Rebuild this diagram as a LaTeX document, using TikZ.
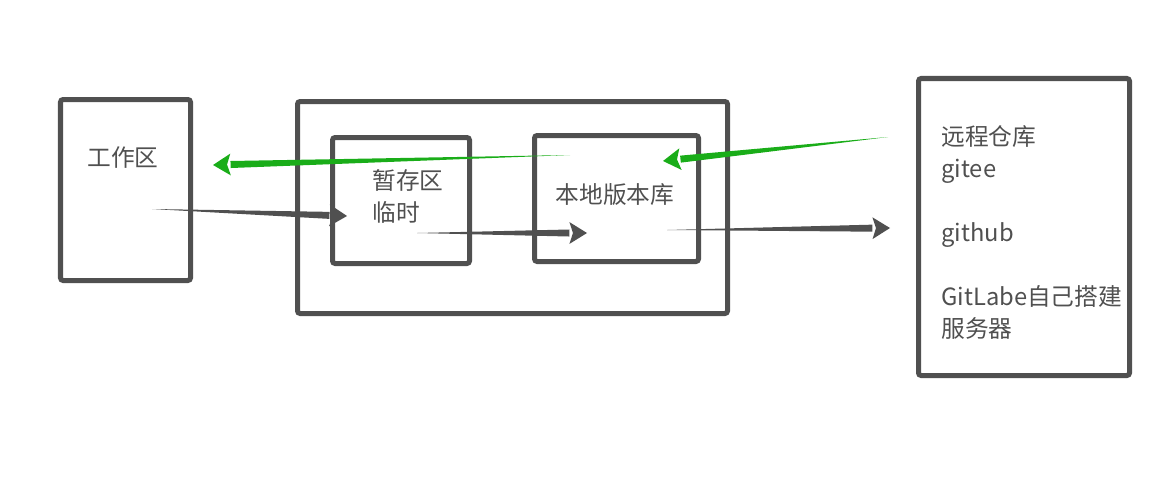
\documentclass[tikz,border=0pt]{standalone}
\usepackage{fontspec}
\setmainfont{Noto Sans CJK SC}
\usetikzlibrary{calc}
\definecolor{boxgray}{RGB}{80,80,80}
\definecolor{txtgray}{RGB}{80,80,80}
\definecolor{pullgreen}{RGB}{26,173,25}
\tikzset{
  box/.style={draw=boxgray,line width=2.85pt,rounded corners=1.5pt},
  txt/.style={text=txtgray,font=\fontsize{13.5}{18.2}\selectfont,inner sep=0pt},
}
% tapered arrow: colour, from, to
\newcommand{\taperarrow}[3]{%
  \coordinate (h) at ($(#3)!10pt!(#2)$);
  \fill[#1] (#2) -- ($(h)!2pt!90:(#2)$) -- ($(h)!2pt!-90:(#2)$) -- cycle;
  \fill[#1] (#3) -- ($(h)!6.2pt!90:(#2)$) -- ($(h)!-2pt!(#2)$)
    -- ($(h)!6.2pt!-90:(#2)$) -- cycle;
}
\begin{document}
\begin{tikzpicture}[x=0.02cm,y=-0.02cm]
  \useasboundingbox (0,0) rectangle (1168,487);

  \draw[box] (60.5,99.5) rectangle (190.5,280.5);
  \draw[box] (297.5,101.5) rectangle (727.5,313.5);
  \draw[box] (332.5,137.5) rectangle (469.5,263.5);
  \draw[box] (534.5,135.5) rectangle (698.5,261.5);
  \draw[box] (918.5,78.5) rectangle (1129.5,375.5);

  \node[txt] (work) at (123,158) {工作区};
  \node[txt,align=left,anchor=north west] (stage) at (372,169) {暂存区\\临时};
  \node[txt] (localrepo) at (615,195) {本地版本库};
  \node[txt,align=left,anchor=north west] (remote) at (941,125)
    {远程仓库\\gitee\\ \\github\\ \\GitLabe自己搭建\\服务器};

  \coordinate (add-from) at (152,209);
  \coordinate (add-to) at (347,216);
  \coordinate (commit-from) at (417,233);
  \coordinate (commit-to) at (587,233);
  \coordinate (push-from) at (667,230);
  \coordinate (push-to) at (890,228);
  \coordinate (pull-from) at (888,137);
  \coordinate (pull-to) at (663,161);
  \coordinate (checkout-from) at (570,155);
  \coordinate (checkout-to) at (213,165);

  \taperarrow{boxgray}{add-from}{add-to}
  \taperarrow{boxgray}{commit-from}{commit-to}
  \taperarrow{boxgray}{push-from}{push-to}
  \taperarrow{pullgreen}{pull-from}{pull-to}
  \taperarrow{pullgreen}{checkout-from}{checkout-to}
\end{tikzpicture}
\end{document}
